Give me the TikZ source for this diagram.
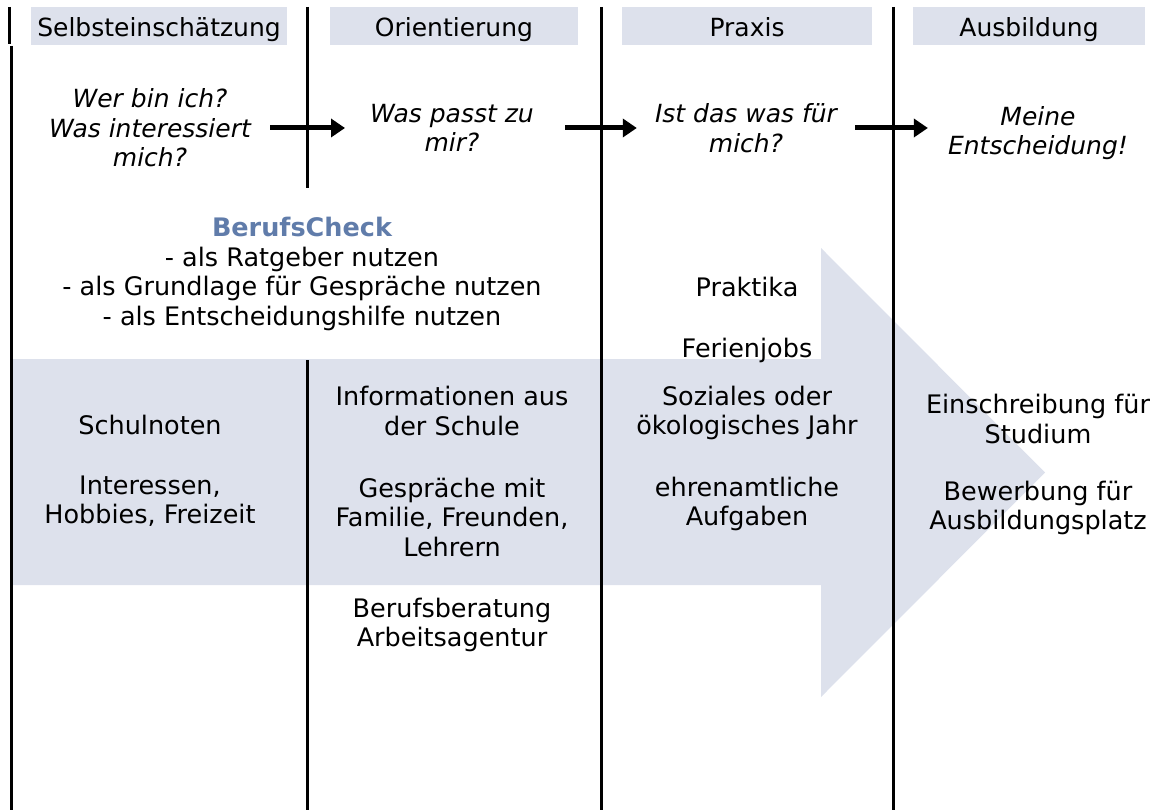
\documentclass[tikz,border=0pt]{standalone}
\usepackage{fontspec}
\setmainfont{DejaVu Sans}
\usetikzlibrary{arrows.meta}
\definecolor{bandblue}{RGB}{221,225,236}
\definecolor{checkblue}{RGB}{96,124,170}
\tikzset{
  head/.style={fill=bandblue, minimum height=38pt, inner sep=0pt, text height=23pt, text depth=1pt,
    font=\fontsize{25}{29.5}\selectfont},
  txt/.style={align=center, inner sep=0pt, font=\fontsize{25.5}{29.5}\selectfont},
  quest/.style={txt, font=\fontsize{25}{29.5}\selectfont\itshape},
  flow/.style={line width=5pt, -{Triangle[length=14pt,width=18pt]}},
  col/.style={line width=3pt}
}
\begin{document}
\begin{tikzpicture}[x=1pt, y=-1pt]
    \useasboundingbox (0,0) rectangle (1154,810);
    \fill[bandblue] (11,359) -- (821,359) -- (821,248) -- (1045,472.5)
      -- (821,697) -- (821,585) -- (11,585) -- cycle;

    \draw[col] (9,7) -- (9,44);
    \draw[col] (11,46) -- (11,810);
    \draw[col] (307,7) -- (307,188);
    \draw[col] (307,360) -- (307,810);
    \foreach \x in {601,893}
    \draw[col] (\x,7) -- (\x,810);

    \node[head, minimum width=256pt] (sel) at (159,26) {Selbsteinschätzung};
    \node[head, minimum width=248pt] (ori) at (454,26) {Orientierung};
    \node[head, minimum width=250pt] (pra) at (747,26) {Praxis};
    \node[head, minimum width=232pt] (aus) at (1029,26) {Ausbildung};

    \node[quest] (q1) at (150,128) {Wer bin ich?\\Was interessiert\\mich?};
    \node[quest] (q2) at (452,128) {Was passt zu\\mir?};
    \node[quest] (q3) at (746,128) {Ist das was für\\mich?};
    \node[quest] (q4) at (1038,133) {Meine\\Entscheidung!};

    \draw[flow] ([xshift=19pt]q1.east) -- ([xshift=-25pt]q1.east -| q2.west);
    \draw[flow] ([xshift=31pt]q2.east) -- ([xshift=-18pt]q2.east -| q3.west);
    \draw[flow] ([xshift=18pt]q3.east) -- ([xshift=-20pt]q3.east -| q4.west);

    \node[txt] (check) at (302,274) {{\bfseries\color{checkblue}BerufsCheck}\\- als Ratgeber nutzen\\
      - als Grundlage für Gespräche nutzen\\- als Entscheidungshilfe nutzen};

    \node[txt] (notes) at (150,425) {Schulnoten};
    \node[txt] (hobbies) at (150,501) {Interessen,\\Hobbies, Freizeit};

    \node[txt] (info) at (452,411) {Informationen aus\\der Schule};
    \node[txt] (talks) at (452,517) {Gespräche mit\\Familie, Freunden,\\Lehrern};
    \node[txt] (advice) at (452,625) {Berufsberatung\\Arbeitsagentur};

    \node[txt] (intern) at (747,287) {Praktika};
    \node[txt] (holiday) at (747,350) {Ferienjobs};
    \node[txt] (fsj) at (747,413) {Soziales oder\\ökologisches Jahr};
    \node[txt] (honor) at (747,504) {ehrenamtliche\\Aufgaben};

    \node[txt] (enrol) at (1038,419) {Einschreibung für\\Studium};
    \node[txt] (apply) at (1038,508) {Bewerbung für\\Ausbildungsplatz};
\end{tikzpicture}
\end{document}
